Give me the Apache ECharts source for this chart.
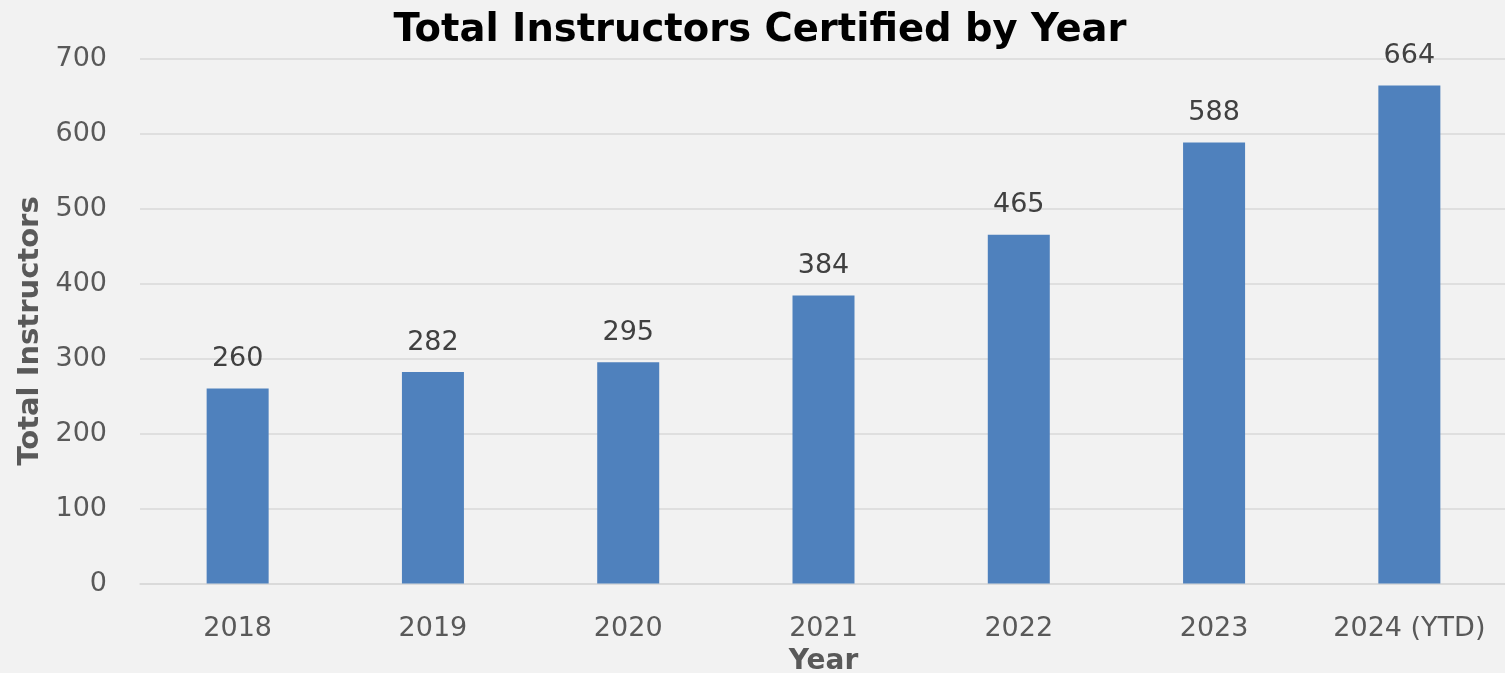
<!DOCTYPE html>
<html><head><meta charset="utf-8">
<script src="https://cdn.jsdelivr.net/npm/echarts@6/dist/echarts.min.js"></script>
<style>html,body{margin:0;padding:0;background:#f2f2f2;}#c{width:1505px;height:673px;}</style>
</head><body><div id="c"></div>
<script>
const categories = ['2018','2019','2020','2021','2022','2023','2024 (YTD)'];
const values = [260, 282, 295, 384, 465, 588, 664];
const yTicks = [0, 100, 200, 300, 400, 500, 600, 700];

const chart = echarts.init(document.getElementById('c'));
const font = 'DejaVu Sans, Verdana, sans-serif';
chart.setOption({
  backgroundColor: '#f2f2f2',
  animation: false,
  title: {
    text: 'Total Instructors Certified by Year',
    left: 755, top: 6, textAlign: 'center',
    textStyle: {fontFamily: font, fontWeight: 'bold', fontSize: 38.5, color: '#000'}
  },
  grid: {left: 140, right: -2, top: 58.5, bottom: 89.5, containLabel: false, outerBoundsMode: 'none'},
  xAxis: {
    type: 'category', data: categories,
    name: 'Year', nameLocation: 'middle', nameGap: 60,
    nameTextStyle: {fontFamily: font, fontWeight: 'bold', fontSize: 28, color: '#595959'},
    axisLine: {show: true, lineStyle: {color: '#d9d9d9', width: 1.5}},
    axisTick: {show: false},
    axisLabel: {interval: 0, fontFamily: font, fontSize: 27, color: '#595959', margin: 32}
  },
  yAxis: {
    type: 'value', min: yTicks[0], max: yTicks[yTicks.length-1], interval: 100,
    name: 'Total Instructors', nameLocation: 'middle', nameGap: 88, nameRotate: 90,
    nameTextStyle: {fontFamily: font, fontWeight: 'bold', fontSize: 29, color: '#595959', padding: [0, 20, 0, 0]},
    axisLine: {show: false}, axisTick: {show: false},
    splitLine: {lineStyle: {color: '#d9d9d9', width: 1.5}},
    axisLabel: {fontFamily: font, fontSize: 27, color: '#595959', margin: 33}
  },
  series: [{
    type: 'bar', data: values, barWidth: 62,
    itemStyle: {color: '#4f81bd'},
    label: {show: true, position: 'top', distance: 16, fontFamily: font, fontSize: 27, color: '#404040'}
  }]
});
</script></body></html>
